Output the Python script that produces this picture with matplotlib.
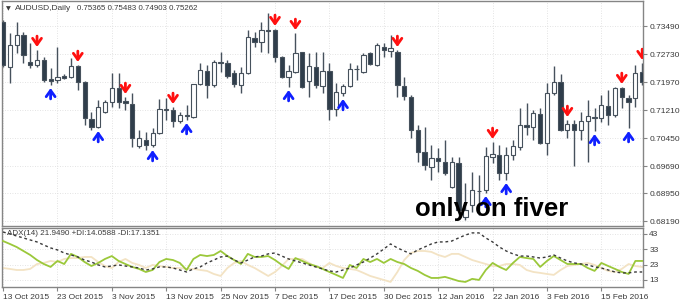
"""
AUDUSD daily candles with buy/sell arrows and ADX(14) panel, MT4 look
"""
import matplotlib
matplotlib.use('Agg')
import matplotlib.pyplot as plt

plt.rcParams['font.family'] = ['Liberation Sans', 'DejaVu Sans']

# ---- data ----
opens = [0.73599, 0.72378, 0.72975, 0.73246, 0.72513, 0.72432, 0.72568, 0.72052, 0.72025, 0.72133,
         0.72106, 0.72405, 0.71971, 0.70966, 0.70749, 0.71156, 0.71428, 0.71808, 0.71455, 0.71373,
         0.70234, 0.70396, 0.70261, 0.70586, 0.71211, 0.71211, 0.70912, 0.71075, 0.71021, 0.71916,
         0.72269, 0.71889, 0.72513, 0.72486, 0.72215, 0.71889, 0.72215, 0.73165, 0.73056, 0.73382,
         0.73382, 0.72649, 0.72106, 0.72242, 0.72785, 0.71998, 0.72378, 0.71862, 0.72269, 0.71238,
         0.71672, 0.71862, 0.72323, 0.72242, 0.72758, 0.72432, 0.72920, 0.72812, 0.72785, 0.71862,
         0.71564, 0.70668, 0.70071, 0.69664, 0.69908, 0.69799, 0.69121, 0.69772, 0.68307, 0.68632,
         0.69012, 0.69039, 0.69935, 0.69989, 0.69501, 0.69989, 0.70206, 0.70804, 0.70749, 0.71102,
         0.70315, 0.71672, 0.71971, 0.70668, 0.70831, 0.70668, 0.70912, 0.71021, 0.70993, 0.71319,
         0.71075, 0.71808, 0.71536, 0.71536, 0.72242]
highs = [0.73653, 0.73300, 0.73599, 0.73327, 0.73029, 0.72839, 0.72649, 0.72351, 0.72920, 0.72188,
         0.72622, 0.72432, 0.71998, 0.71156, 0.71482, 0.71482, 0.72215, 0.72215, 0.71564, 0.71672,
         0.70668, 0.70614, 0.70722, 0.71509, 0.71536, 0.71292, 0.71156, 0.71346, 0.71916, 0.72486,
         0.72432, 0.72568, 0.72785, 0.72568, 0.72296, 0.72378, 0.73382, 0.73327, 0.73599, 0.73843,
         0.73409, 0.72676, 0.72432, 0.73300, 0.72785, 0.72758, 0.72785, 0.72785, 0.72486, 0.71943,
         0.71916, 0.72486, 0.72432, 0.72758, 0.72785, 0.73029, 0.73029, 0.73246, 0.72839, 0.72106,
         0.71618, 0.70804, 0.70749, 0.70261, 0.70179, 0.70396, 0.69935, 0.69935, 0.69229, 0.69528,
         0.69446, 0.70206, 0.70342, 0.70261, 0.70206, 0.70396, 0.71265, 0.71401, 0.71211, 0.71265,
         0.71943, 0.72405, 0.72188, 0.70939, 0.70939, 0.71156, 0.71482, 0.71265, 0.71618, 0.71753,
         0.71835, 0.71835, 0.71618, 0.72432, 0.72486]
lows = [0.72378, 0.71943, 0.72758, 0.72486, 0.72351, 0.72378, 0.71971, 0.71889, 0.71943, 0.72052,
        0.72079, 0.71753, 0.70804, 0.70668, 0.70722, 0.71129, 0.71292, 0.71265, 0.71211, 0.70206,
        0.70179, 0.70125, 0.70206, 0.70559, 0.70939, 0.70749, 0.70858, 0.70939, 0.70993, 0.71889,
        0.71536, 0.71835, 0.72242, 0.72079, 0.71835, 0.71672, 0.72188, 0.72920, 0.72785, 0.72758,
        0.72513, 0.72079, 0.71835, 0.72215, 0.71808, 0.71564, 0.71808, 0.71672, 0.70939, 0.71048,
        0.71591, 0.71835, 0.72025, 0.72215, 0.72432, 0.72405, 0.72649, 0.72649, 0.71564, 0.71482,
        0.70451, 0.69799, 0.69582, 0.69311, 0.69528, 0.69446, 0.69094, 0.68307, 0.68225, 0.68442,
        0.68361, 0.68958, 0.69772, 0.69311, 0.69311, 0.69854, 0.70125, 0.70532, 0.70396, 0.70288,
        0.69989, 0.71618, 0.70641, 0.70451, 0.69691, 0.70396, 0.69799, 0.70641, 0.70885, 0.70804,
        0.71021, 0.71265, 0.70722, 0.71292, 0.71889]
closes = [0.72432, 0.72975, 0.73246, 0.72703, 0.72432, 0.72568, 0.72025, 0.71998, 0.72106, 0.72079,
          0.72405, 0.71971, 0.70993, 0.70749, 0.71292, 0.71428, 0.71808, 0.71428, 0.71401, 0.70451,
          0.70451, 0.70261, 0.70586, 0.71238, 0.71238, 0.70912, 0.71075, 0.71061, 0.71916, 0.72296,
          0.71889, 0.72513, 0.72486, 0.72133, 0.71916, 0.72215, 0.73192, 0.73056, 0.73382, 0.73355,
          0.72649, 0.72106, 0.72269, 0.72758, 0.71835, 0.72405, 0.71889, 0.72269, 0.71238, 0.71699,
          0.71862, 0.72323, 0.72310, 0.72703, 0.72459, 0.72975, 0.72839, 0.72893, 0.71889, 0.71591,
          0.70668, 0.70071, 0.69718, 0.69908, 0.69826, 0.69501, 0.69799, 0.68497, 0.68497, 0.69039,
          0.68999, 0.69962, 0.70016, 0.69501, 0.69989, 0.70234, 0.70804, 0.70749, 0.71129, 0.70315,
          0.71672, 0.71971, 0.70668, 0.70831, 0.70668, 0.70912, 0.71048, 0.70993, 0.71346, 0.71075,
          0.71808, 0.71564, 0.71428, 0.72215, 0.71971]

# bars with signal arrows
sell_bars = [5, 11, 18, 25, 40, 43, 58, 72, 83, 91, 94]
buy_bars = [7, 14, 22, 27, 42, 50, 71, 74, 87, 92]

# ADX(14) panel
adx = [44.3, 43.0, 41.7, 40.4, 39.1, 37.8, 35.8, 33.9, 32.6, 30.6,
       29.3, 28.0, 26.0, 24.7, 22.8, 21.5, 22.1, 22.8, 22.1, 21.5,
       20.8, 19.5, 20.2, 21.5, 21.5, 20.8, 19.5, 18.2, 20.2, 21.5,
       24.1, 26.0, 28.0, 28.6, 26.0, 24.1, 26.0, 28.0, 28.6, 30.0,
       30.6, 28.6, 26.7, 25.4, 24.1, 22.8, 21.5, 20.2, 18.9, 18.2,
       19.5, 20.8, 22.8, 24.7, 27.3, 30.0, 33.2, 36.5, 33.9, 31.9,
       30.0, 32.6, 34.5, 36.5, 37.8, 37.8, 38.4, 40.4, 42.3, 43.7,
       43.7, 40.4, 37.8, 34.5, 31.9, 30.0, 28.6, 28.6, 28.0, 27.3,
       28.0, 29.3, 27.3, 25.4, 24.1, 23.4, 22.8, 21.5, 20.8, 19.5,
       18.2, 17.6, 17.6, 18.2, 18.2]
plus_di = [38.4, 36.5, 34.5, 31.9, 29.3, 26.0, 23.4, 21.5, 25.4, 23.4,
           30.0, 28.0, 24.7, 22.1, 24.1, 26.7, 28.6, 25.4, 23.4, 21.5,
           20.2, 18.2, 19.5, 24.7, 26.7, 26.0, 24.1, 19.5, 26.7, 29.3,
           28.6, 29.3, 31.9, 28.6, 26.0, 23.4, 30.0, 28.0, 28.0, 28.6,
           26.0, 22.8, 20.2, 27.3, 25.4, 23.4, 22.1, 20.2, 18.2, 16.3,
           14.3, 22.8, 20.8, 26.7, 24.7, 26.7, 24.1, 26.7, 24.7, 23.4,
           20.8, 18.9, 16.3, 14.3, 14.3, 15.0, 13.7, 12.3, 11.7, 13.7,
           13.0, 19.5, 24.1, 21.5, 19.5, 24.1, 28.0, 27.3, 26.7, 21.5,
           25.4, 28.6, 26.0, 23.4, 23.4, 23.4, 20.8, 18.9, 24.1, 22.1,
           20.2, 18.2, 16.9, 25.4, 25.4]
minus_di = [20.8, 20.2, 19.5, 19.5, 20.2, 23.4, 24.1, 25.4, 24.7, 26.7,
            27.3, 27.3, 28.0, 28.0, 24.7, 22.1, 20.8, 24.7, 26.7, 24.1,
            22.8, 20.8, 22.8, 22.1, 21.5, 20.8, 20.8, 20.2, 20.2, 19.5,
            18.9, 16.9, 15.6, 20.8, 24.1, 25.4, 22.8, 20.8, 18.2, 15.6,
            18.2, 22.1, 26.7, 26.7, 26.7, 24.1, 21.5, 20.8, 24.1, 22.1,
            20.8, 20.2, 19.5, 17.6, 15.6, 14.3, 13.0, 11.7, 18.2, 26.0,
            30.6, 31.9, 31.9, 31.3, 29.3, 28.0, 30.0, 30.0, 28.0, 26.0,
            24.7, 23.4, 22.1, 22.1, 23.4, 23.4, 22.8, 19.5, 18.2, 17.6,
            16.9, 16.3, 19.5, 22.1, 22.8, 23.4, 24.1, 22.8, 20.8, 18.9,
            18.2, 20.2, 23.4, 22.1, 21.5]

price_labels = ['0.73490', '0.72730', '0.71970', '0.71210', '0.70450', '0.69690', '0.68950', '0.68190']
adx_ticks = [43, 33, 23, 13]
date_bars = [0, 8, 16, 24, 32, 40, 48, 56, 64, 72, 80, 88]
date_labels = ['13 Oct 2015', '23 Oct 2015', '3 Nov 2015', '13 Nov 2015', '25 Nov 2015', '7 Dec 2015',
               '17 Dec 2015', '30 Dec 2015', '12 Jan 2016', '22 Jan 2016', '3 Feb 2016', '15 Feb 2016']

# ---- style ----
DARK = '#2f3d4b'
EDGE = '#46515c'
FRAME = '#858585'
TXT = '#3a3a3a'
GRID = '#dadada'

W, H = 680, 306
fig = plt.figure(figsize=(W / 100, H / 100), dpi=100)
fig.patch.set_facecolor('white')
ax = fig.add_axes([2 / W, 1 - 226 / H, 641 / W, 225 / H])
ax2 = fig.add_axes([2 / W, 1 - 287 / H, 641 / W, 59 / H])

n = len(opens)
idx = list(range(n))

# candles: wicks first, then bodies on top
ax.vlines(idx, lows, highs, color=EDGE, linewidth=1, zorder=2)
bottoms = [min(o, c) for o, c in zip(opens, closes)]
heights = [max(abs(c - o), 0.00004) for o, c in zip(opens, closes)]
faces = ['white' if c > o else DARK for o, c in zip(opens, closes)]
ax.bar(idx, heights, bottom=bottoms, width=0.62, color=faces, edgecolor=EDGE,
       linewidth=0.8, zorder=3)

# signal arrows
arrow_style = '->,head_length=0.45,head_width=0.32'
for i in sell_bars:
    a = ax.annotate('', xy=(i, highs[i]), xytext=(0, 10), textcoords='offset points',
                    arrowprops=dict(arrowstyle=arrow_style, color='#ff1010', lw=2.0,
                                    shrinkA=0, shrinkB=2.2, mutation_scale=10))
    a.arrow_patch.set_clip_box(ax.bbox)
    a.arrow_patch.set_clip_on(True)
for i in buy_bars:
    a = ax.annotate('', xy=(i, lows[i]), xytext=(0, -10), textcoords='offset points',
                    arrowprops=dict(arrowstyle=arrow_style, color='#1020ff', lw=2.0,
                                    shrinkA=0, shrinkB=2.2, mutation_scale=10))
    a.arrow_patch.set_clip_box(ax.bbox)
    a.arrow_patch.set_clip_on(True)

ax.set_xlim(-0.15, 94.12)
ax.set_ylim(0.68062, 0.74169)
ax.yaxis.tick_right()
ax.set_yticks([float(t) for t in price_labels])
ax.set_yticklabels(price_labels)
ax.tick_params(axis='y', length=3, width=0.8, color=FRAME, pad=1.5, labelsize=6, labelcolor=TXT)
ax.set_xticks(date_bars)
ax.tick_params(axis='x', length=0, labelbottom=False)
ax.grid(True, color=GRID, linestyle=(0, (1, 2)), linewidth=0.6)
ax.set_axisbelow(True)

# ADX panel
ax2.plot(idx, minus_di, color='#f3e3c4', linewidth=1.3, zorder=2)
ax2.plot(idx, plus_di, color='#9bc83a', linewidth=1.3, zorder=3)
ax2.plot(idx, adx, color='#3a3a3a', linewidth=1.0, linestyle=(0, (2, 2)), zorder=4)
ax2.set_xlim(-0.15, 94.12)
ax2.set_ylim(8.4, 46.9)
ax2.yaxis.tick_right()
ax2.set_yticks(adx_ticks)
ax2.set_yticklabels([str(t) for t in adx_ticks])
ax2.tick_params(axis='y', length=3, width=0.8, color=FRAME, pad=1.5, labelsize=6, labelcolor=TXT)
ax2.set_xticks(date_bars)
ax2.set_xticklabels(date_labels)
ax2.tick_params(axis='x', length=3, width=0.8, color=FRAME, pad=2, labelsize=6, labelcolor=TXT)
for lbl in ax2.get_xticklabels():
    lbl.set_horizontalalignment('left')
ax2.grid(True, color=GRID, linestyle=(0, (1, 2)), linewidth=0.6)
ax2.set_axisbelow(True)
ax2.text(0.008, 0.9, 'ADX(14) 21.9490 +DI:14.0588 -DI:17.1351', transform=ax2.transAxes,
         fontsize=5.8, color=TXT, va='center', ha='left', zorder=5)

for a_ in (ax, ax2):
    for sp in a_.spines.values():
        sp.set_color(FRAME)
        sp.set_linewidth(1.0)

# header and watermark
fig.text(6 / W, 1 - 8.5 / H, '\u25bc', fontsize=4.5, color=TXT, va='center', ha='left',
         family=['DejaVu Sans'])
fig.text(15 / W, 1 - 8 / H, 'AUDUSD,Daily', fontsize=6, color=TXT, va='center', ha='left')
fig.text(77 / W, 1 - 8 / H, '0.75365 0.75483 0.74903 0.75262', fontsize=5.7, color=TXT,
         va='center', ha='left')
fig.text(415 / W, 1 - 216 / H, 'only on fiver', fontsize=18.5, fontweight='bold',
         color='black', va='baseline', ha='left')

fig.savefig('out.png', dpi=100)
plt.close(fig)
